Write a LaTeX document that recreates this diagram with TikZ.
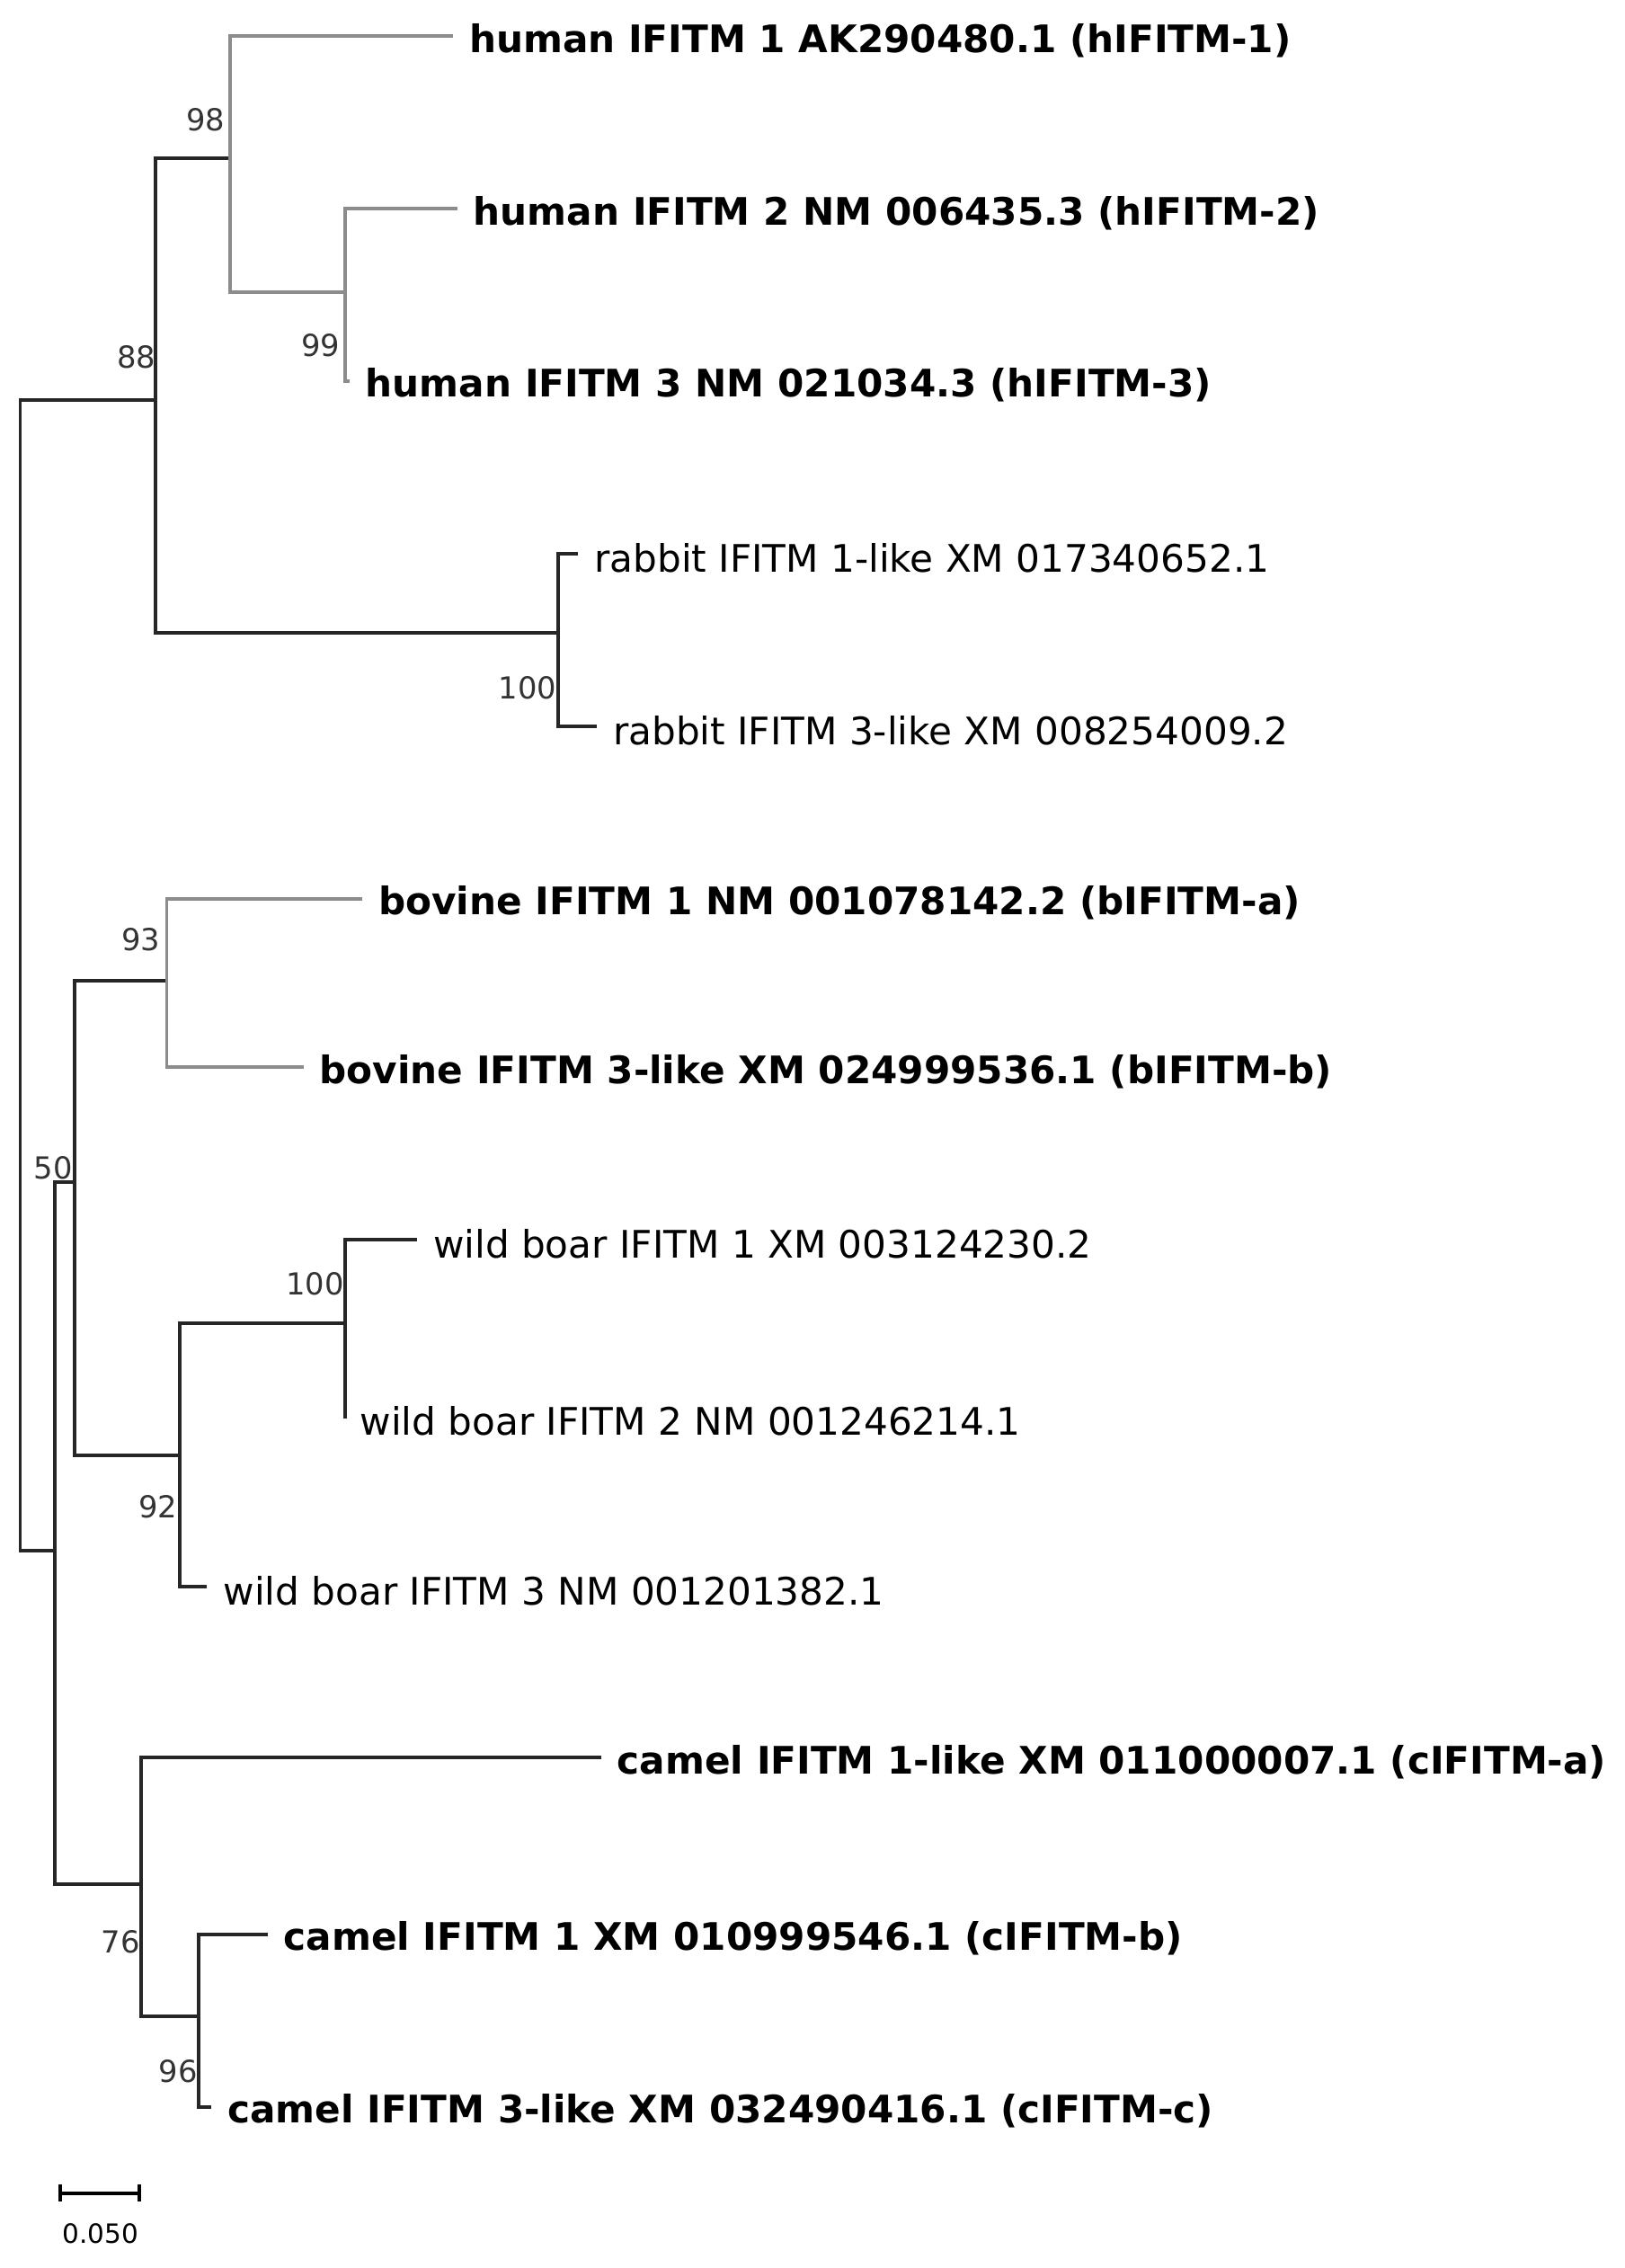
\documentclass[tikz,border=0pt]{standalone}
\usepackage{fontspec}
\setmainfont{DejaVu Sans}
\begin{document}
\begin{tikzpicture}[x=0.02cm,y=-0.02cm,
    br/.style={line width=1.3pt,black!85},
    gr/.style={line width=1.3pt,black!45},
    leaf/.style={anchor=west,inner xsep=0.22cm,inner ysep=0pt,yshift=-0.06cm,font=\fontsize{15}{18}\selectfont},
    bleaf/.style={leaf,font=\fontsize{15}{18}\selectfont\bfseries},
    bs/.style={font=\fontsize{12}{14}\selectfont,text=black!80,inner sep=0pt}]
  \useasboundingbox (0,0) rectangle (1130,1577);
  % internal nodes
  \coordinate (root) at (14,678);
  \coordinate (n88) at (108,278);
  \coordinate (n98) at (160,110);
  \coordinate (n99) at (240,203);
  \coordinate (nrab) at (388,440);
  \coordinate (n50) at (38,1078);
  \coordinate (nlow) at (52,822);
  \coordinate (n93) at (116,682);
  \coordinate (n92) at (125,1012);
  \coordinate (nboar) at (240,920);
  \coordinate (n76) at (98,1310);
  \coordinate (n96) at (138,1402);
  % leaves
  \node[bleaf] (h1) at (315,25) {human IFITM 1 AK290480.1 (hIFITM-1)};
  \node[bleaf] (h2) at (318,145) {human IFITM 2 NM 006435.3 (hIFITM-2)};
  \node[bleaf] (h3) at (243,265) {human IFITM 3 NM 021034.3 (hIFITM-3)};
  \node[leaf] (r1) at (402,385) {rabbit IFITM 1-like XM 017340652.1};
  \node[leaf] (r3) at (415,505) {rabbit IFITM 3-like XM 008254009.2};
  \node[bleaf] (b1) at (252,625) {bovine IFITM 1 NM 001078142.2 (bIFITM-a)};
  \node[bleaf] (b3) at (211,742) {bovine IFITM 3-like XM 024999536.1 (bIFITM-b)};
  \node[leaf] (w1) at (290,862) {wild boar IFITM 1 XM 003124230.2};
  \node[leaf] (w2) at (239,985) {wild boar IFITM 2 NM 001246214.1};
  \node[leaf] (w3) at (144,1103) {wild boar IFITM 3 NM 001201382.1};
  \node[bleaf] (c1) at (418,1222) {camel IFITM 1-like XM 011000007.1 (cIFITM-a)};
  \node[bleaf] (c2) at (186,1345) {camel IFITM 1 XM 010999546.1 (cIFITM-b)};
  \node[bleaf] (c3) at (147,1465) {camel IFITM 3-like XM 032490416.1 (cIFITM-c)};
  % branches
  \draw[br] (root) |- (n88);
  \draw[br] (root) |- (n50);
  \draw[br] (n88) |- (n98);
  \draw[br] (n88) |- (nrab);
  \draw[gr] (n98) |- ([yshift=0.06cm]h1.west);
  \draw[gr] (n98) |- (n99);
  \draw[gr] (n99) |- ([yshift=0.06cm]h2.west);
  \draw[gr] (n99) |- ([yshift=0.06cm]h3.west);
  \draw[br] (nrab) |- ([yshift=0.06cm]r1.west);
  \draw[br] (nrab) |- ([yshift=0.06cm]r3.west);
  \draw[br] (n50) |- (nlow);
  \draw[br] (n50) |- (n76);
  \draw[br] (nlow) |- (n93);
  \draw[br] (nlow) |- (n92);
  \draw[gr] (n93) |- ([yshift=0.06cm]b1.west);
  \draw[gr] (n93) |- ([yshift=0.06cm]b3.west);
  \draw[br] (n92) |- (nboar);
  \draw[br] (n92) |- ([yshift=0.06cm]w3.west);
  \draw[br] (nboar) |- ([yshift=0.06cm]w1.west);
  \draw[br] (nboar) |- ([yshift=0.06cm]w2.west);
  \draw[br] (n76) |- ([yshift=0.06cm]c1.west);
  \draw[br] (n76) |- (n96);
  \draw[br] (n96) |- ([yshift=0.06cm]c2.west);
  \draw[br] (n96) |- ([yshift=0.06cm]c3.west);
  % bootstrap values
  \node[bs] at (95,248) {88};
  \node[bs] at (143,83) {98};
  \node[bs] at (223,240) {99};
  \node[bs] at (367,478) {100};
  \node[bs] at (37,812) {50};
  \node[bs] at (98,653) {93};
  \node[bs] at (110,1048) {92};
  \node[bs] at (219,893) {100};
  \node[bs] at (84,1350) {76};
  \node[bs] at (124,1440) {96};
  % scale bar
  \coordinate (sb1) at (42,1525);
  \coordinate (sb2) at (97,1525);
  \draw[line width=1.3pt] (sb1) -- (sb2);
  \draw[line width=1.3pt] ([yshift=0.12cm]sb1) -- ([yshift=-0.12cm]sb1);
  \draw[line width=1.3pt] ([yshift=0.12cm]sb2) -- ([yshift=-0.12cm]sb2);
  \node[font=\fontsize{10.5}{12}\selectfont] (sbl) at (70,1553) {0.050};
\end{tikzpicture}
\end{document}
